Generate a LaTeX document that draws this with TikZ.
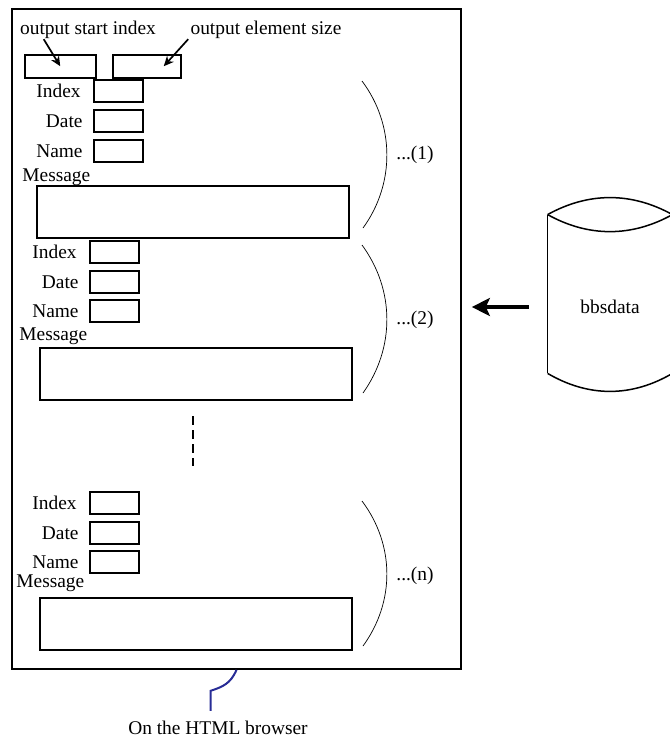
\documentclass[tikz,border=0pt]{standalone}
\usepackage{fontspec}
\setmainfont{Liberation Serif}
\usetikzlibrary{arrows.meta,positioning}
\definecolor{webblue}{RGB}{40,44,150}

\begin{document}
\begin{tikzpicture}[x=0.5pt,y=-0.5pt,
        font=\fontsize{9.7}{11}\selectfont,
        lbl/.style={inner sep=0pt},
        field/.style={draw, line width=0.75pt, minimum width=24.5pt, minimum height=11pt, inner sep=0pt, anchor=north west},
        msgbox/.style={draw, line width=0.75pt, minimum width=156pt, minimum height=26pt, inner sep=0pt, anchor=north west},
        brace/.style={line width=0.35pt},
        pointer/.style={-{Stealth[length=5pt,width=4.5pt]}, line width=0.85pt},
        fetcharrow/.style={-{Stealth[length=9pt,width=9pt,inset=2pt]}, line width=2.3pt},
        webline/.style={draw=webblue, line width=1pt}]

        % page size
        \clip (0,0) rectangle (670,741);

        % the browser window
        \node[draw, line width=0.85pt, minimum width=224.5pt, minimum height=330pt, inner sep=0pt] (frame) at (236.5,339) {};

        % the two fields on top
        \node[lbl] (ostart) at (88,30) {output start index};
        \node[lbl] (osize) at (266,30) {output element size};
        \node[field, minimum width=35.5pt, minimum height=11.5pt] (bstart) at (24,54) {};
        \node[field, minimum width=34pt, minimum height=11.5pt] (bsize) at (112,54) {};
        \draw[pointer] ([xshift=12pt]ostart.south west) -- (bstart.center);
        \draw[pointer] ([xshift=-1pt]osize.south west) -- ([xshift=8.5pt]bsize.center);

        % first element
        \node[field] (idx1) at (93,79) {};
        \node[field] (date1) at (93,109) {};
        \node[field] (name1) at (93,139) {};
        \node[lbl, left=6pt of idx1] (lidx1) {Index};
        \node[lbl, left=5pt of date1] (ldate1) {Date};
        \node[lbl, left=5pt of name1] (lname1) {Name};
        \node[lbl, anchor=west] (lmsg1) at (22,177) {Message};
        \node[msgbox] (msg1) at (36,185) {};
        \draw[brace] (362,81) .. controls (395,125) and (395,184) .. (363,228);
        \node[lbl] (cnt1) at (415,155) {...(1)};

        % second element
        \node[field] (idx2) at (89,240) {};
        \node[field] (date2) at (89,270) {};
        \node[field] (name2) at (89,299) {};
        \node[lbl, left=6pt of idx2] (lidx2) {Index};
        \node[lbl, left=5pt of date2] (ldate2) {Date};
        \node[lbl, left=5pt of name2] (lname2) {Name};
        \node[lbl, anchor=west] (lmsg2) at (19,336) {Message};
        \node[msgbox] (msg2) at (39,347) {};
        \draw[brace] (362,245) .. controls (395,290) and (395,348) .. (363,393);
        \node[lbl] (cnt2) at (415,320) {...(2)};

        % the elements in between
        \draw[line width=1pt, dash pattern=on 4.5pt off 2.5pt] (193,416) -- (193,466);

        % last element
        \node[field] (idx3) at (89,491) {};
        \node[field] (date3) at (89,521) {};
        \node[field] (name3) at (89,550) {};
        \node[lbl, left=6pt of idx3] (lidx3) {Index};
        \node[lbl, left=5pt of date3] (ldate3) {Date};
        \node[lbl, left=5pt of name3] (lname3) {Name};
        \node[lbl, anchor=west] (lmsg3) at (16,583) {Message};
        \node[msgbox] (msg3) at (39,597) {};
        \draw[brace] (362,501) .. controls (395,545) and (395,602) .. (363,646);
        \node[lbl] (cnt3) at (415,576) {...(n)};

        % the data store
        \node[minimum width=62pt, minimum height=79pt, inner sep=0pt] (cyl) at (610,294) {};
        \draw[line width=0.75pt] (cyl.north west) .. controls +(41,-22.7) and +(-41,-22.7) .. (cyl.north east);
        \draw[line width=0.75pt] (cyl.north west) .. controls +(41,22.7) and +(-41,22.7) .. (cyl.north east);
        \draw[line width=0.75pt] (cyl.south west) .. controls +(41,24) and +(-41,24) .. (cyl.south east);
        \draw[line width=0.75pt] (cyl.north west) -- (cyl.south west);
        \draw[line width=0.75pt] (cyl.north east) -- (cyl.south east);
        \node[lbl] (bbs) at (610,307) {bbsdata};
        \draw[fetcharrow] ([xshift=-9.5pt]cyl.west |- bbs) -- ([xshift=5pt]frame.east |- bbs);

        % caption below
        \node[lbl] (web) at (218,728) {On the HTML browser};
        \draw[webline] (frame.south) .. controls +(-6,14) and +(12,-4) .. ++(-26,21) -- ++(0,20);

\end{tikzpicture}
\end{document}
